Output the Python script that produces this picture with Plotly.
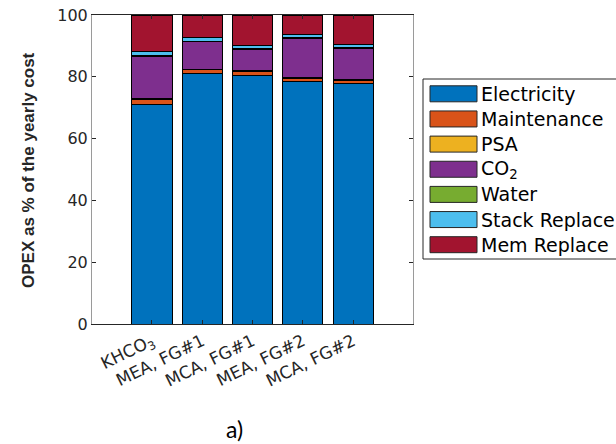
import plotly.graph_objects as go

categories = ["KHCO<sub>3</sub>", "MEA, FG#1", "MCA, FG#1", "MEA, FG#2", "MCA, FG#2"]
series_names = ["Electricity", "Maintenance", "PSA", "CO<sub>2</sub>", "Water", "Stack Replace", "Mem Replace"]
colors = ["#0072BD", "#D95319", "#EDB120", "#7E2F8E", "#77AC30", "#4DBEEE", "#A2142F"]

electricity = [71.0, 81.1, 80.4, 78.4, 77.7]
maintenance = [1.7, 1.2, 1.4, 1.1, 1.2]
psa = [0.2, 0.2, 0.2, 0.3, 0.3]
co2 = [13.7, 8.8, 6.8, 12.6, 10.0]
water = [0.2, 0.2, 0.2, 0.3, 0.3]
stack_replace = [1.4, 1.2, 1.2, 1.0, 1.1]
mem_replace = [11.8, 7.3, 9.8, 6.3, 9.4]

y_ticks = [0, 20, 40, 60, 80, 100]

series = [electricity, maintenance, psa, co2, water, stack_replace, mem_replace]

W, H = 616, 444
FONT = "Arial, Liberation Sans, sans-serif"
WIDE = "DejaVu Sans, sans-serif"

fig = go.Figure()
xs = list(range(len(categories)))
for name, vals, col in zip(series_names, series, colors):
    fig.add_trace(go.Bar(
        x=xs, y=vals, name=name, marker=dict(color=col, line=dict(color="black", width=1)),
        width=0.8, showlegend=False,
    ))

fig.update_layout(
    barmode="stack",
    width=W, height=H,
    margin=dict(l=0, r=0, t=0, b=0, autoexpand=False),
    showlegend=False,
    paper_bgcolor="white", plot_bgcolor="white",
    font=dict(family=WIDE, color="#262626"),
    xaxis=dict(
        domain=[92 / W, 413 / W], range=[-1.19, 5.19], automargin=False,
        tickmode="array", tickvals=xs, ticktext=categories, tickangle=-26,
        ticks="inside", ticklen=4, tickcolor="#262626", mirror="allticks",
        showline=True, linecolor="#262626", linewidth=1,
        showgrid=False, zeroline=False, tickfont=dict(size=17, family=WIDE, color="#262626"),
    ),
    yaxis=dict(
        domain=[1 - 324 / H, 1 - 15 / H], range=[0, 100], automargin=False,
        tickmode="array", tickvals=y_ticks,
        ticks="inside", ticklen=4, tickcolor="#262626", mirror="allticks",
        showline=True, linecolor="#9a9a9a", linewidth=1,
        showgrid=False, zeroline=False, tickfont=dict(size=16, family=WIDE, color="#262626"),
    ),
)

# y-axis title
fig.add_annotation(
    text="<b>OPEX as % of the yearly cost</b>", xref="paper", yref="paper",
    x=28 / W, y=1 - 170 / H, textangle=-90, showarrow=False,
    font=dict(size=17, family=FONT, color="#262626"), xanchor="center", yanchor="middle",
)

# panel label
fig.add_annotation(
    text="a)", xref="paper", yref="paper", x=234 / W, y=1 - 429 / H, showarrow=False,
    font=dict(size=23, family="Lato, Open Sans, sans-serif", color="black"),
    xanchor="center", yanchor="middle",
)

# legend (drawn manually to match large swatches)
fig.add_shape(type="rect", xref="paper", yref="paper",
              x0=423 / W, x1=640 / W, y0=1 - 259 / H, y1=1 - 79 / H,
              line=dict(color="#262626", width=1), fillcolor="white", layer="below")
row0, step = 93.8, 25.15
for i, (name, col) in enumerate(zip(series_names, colors)):
    cy = row0 + i * step
    fig.add_shape(type="rect", xref="paper", yref="paper",
                  x0=430 / W, x1=477 / W, y0=1 - (cy + 8) / H, y1=1 - (cy - 8) / H,
                  line=dict(color="#262626", width=1), fillcolor=col)
    fig.add_annotation(text=name, xref="paper", yref="paper", x=479 / W, y=1 - cy / H,
                       showarrow=False, xanchor="left", yanchor="middle",
                       font=dict(size=19, family=WIDE, color="black"))

fig.write_html("out.html")
